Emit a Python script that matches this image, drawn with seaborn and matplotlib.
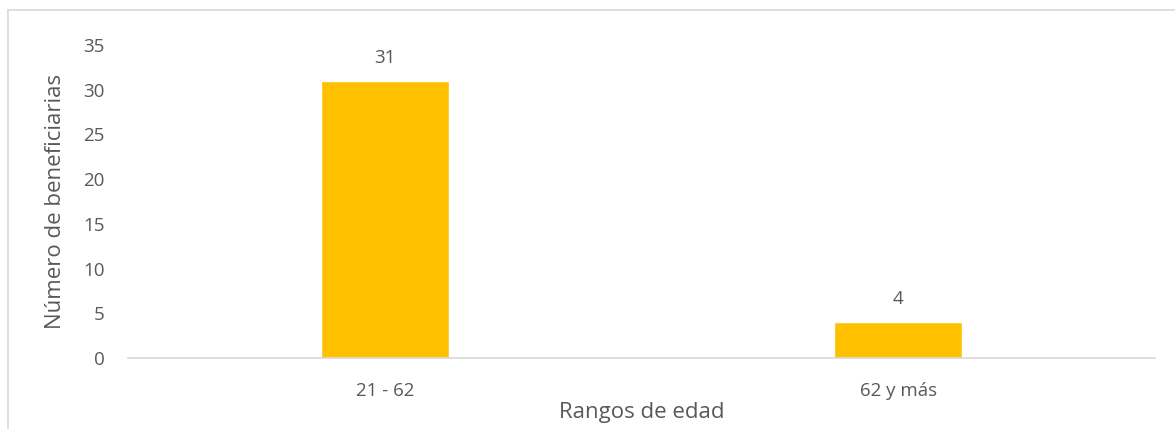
import matplotlib
matplotlib.use("Agg")
import matplotlib.pyplot as plt
import seaborn as sns
import pandas as pd
from matplotlib.lines import Line2D

# datos del gráfico
rangos = ["21 - 62", "62 y más"]
beneficiarias = [31, 4]

df = pd.DataFrame({"rango": rangos, "n": beneficiarias})

sns.set_theme(style="white")
plt.rcParams['font.family'] = ['Open Sans', 'DejaVu Sans']
gris = "#595959"

fig = plt.figure(figsize=(11.75, 4.29), dpi=100)
ax = fig.add_axes([128 / 1175, 1 - 358 / 429, (1155 - 128) / 1175, (358 - 45) / 429])

sns.barplot(data=df, x="rango", y="n", color="#FFC000", width=0.25, saturation=1, ax=ax)

ax.set_ylim(0, 35)
ax.set_yticks(range(0, 36, 5))
ax.set_xlim(-0.5, 1.5)

for i, v in enumerate(beneficiarias):
    ax.annotate(str(v), (i, v), xytext=(0, 10), textcoords="offset points",
                ha="center", va="bottom", fontsize=13.5, color=gris)

for s in ["top", "right", "left"]:
    ax.spines[s].set_visible(False)
ax.spines["bottom"].set_color("#D9D9D9")
ax.spines["bottom"].set_linewidth(1.2)
ax.tick_params(axis="both", length=0, labelsize=13.5, labelcolor=gris)
ax.tick_params(axis="x", pad=17)
ax.tick_params(axis="y", pad=17)

ax.set_xlabel("Rangos de edad", fontsize=16, color=gris, labelpad=2)
ax.set_ylabel("Número de beneficiarias", fontsize=16, color=gris, labelpad=12)

# marco del área del gráfico (arriba e izquierda)
fig.add_artist(Line2D([8 / 1175, 1], [1 - 10 / 429, 1 - 10 / 429], transform=fig.transFigure,
                      color="#D9D9D9", lw=1.2))
fig.add_artist(Line2D([8 / 1175, 8 / 1175], [0, 1 - 10 / 429], transform=fig.transFigure,
                      color="#D9D9D9", lw=1.2))

fig.savefig("out.png", dpi=100)
